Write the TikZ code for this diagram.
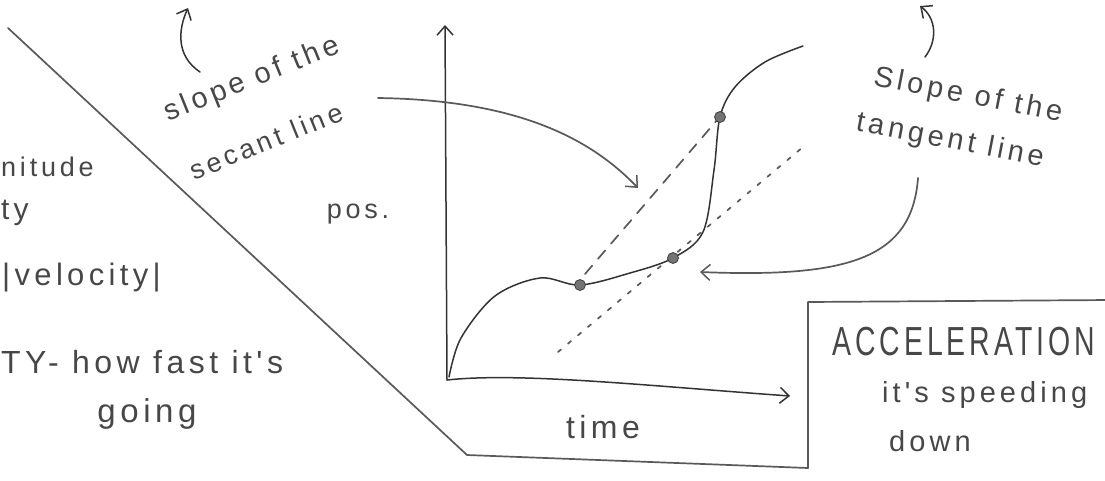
\documentclass[tikz,border=0pt]{standalone}
\usepackage{fontspec}
\newfontfamily\hand[LetterSpace=14]{Liberation Sans}
\usetikzlibrary{arrows.meta}
\begin{document}
\begin{tikzpicture}[x=1pt,y=-1pt,
  pen/.style={draw=black!65,line width=1.7pt,line cap=round,line join=round},
  ink/.style={draw=black!80,line width=1.5pt,line cap=round,line join=round},
  barb/.style={-{Straight Barb[length=9pt,width=16pt,line width=1.5pt]}},
  txt/.style={text=black!72,inner sep=0pt,font=\hand\fontsize{#1}{#1}\selectfont},
  txt/.default=28,
  dot/.style={circle,fill=black!55,draw=black!75,line width=0.8pt,inner sep=0pt,minimum size=11pt}]
\useasboundingbox (0,0) rectangle (1105,480);
% frame line
\draw[pen] (8,28) -- (467,455) -- (808,468) -- (808,302) -- (1110,300);
% axes
\coordinate (O) at (447,380);
\coordinate (Ytop) at (445,25);
\coordinate (Xend) at (790,396);
\draw[ink,barb] (O) -- (Ytop);
\draw[ink,barb] (O) .. controls (520,372) and (650,386) .. (Xend);
% curve
\draw[ink] plot[smooth,tension=0.55] coordinates {(449,377) (461,338) (495,296) (540,278) (580,285) (630,273) (673,258) (703,232) (714,170) (720,117) (735,87) (765,62) (803,46)};
% secant & tangent lines
\draw[pen,dash pattern=on 11pt off 9pt] (585,274) -- (718,119);
\draw[pen,dash pattern=on 4pt off 9pt] (558,352) -- (803,147);
\node[dot] (p1) at (580,285) {};
\node[dot] (p2) at (673,258) {};
\node[dot] (p3) at (720,117) {};
% texts
\node[txt=29,rotate=22] (slopeA) at (252,80) {slope of the};
\node[txt=27,rotate=22] (secant) at (266,141) {secant line};
\node[txt=27] (pos) at (358,214) {pos.};
\node[txt=27,anchor=west] (nitude) at (1,167) {nitude};
\node[txt=30,anchor=west] (ty) at (1,213) {ty};
\node[txt=31,anchor=west] (vel) at (2,278) {|velocity|};
\node[txt=32,anchor=west] (how) at (1,362) {TY- how fast it's};
\node[txt=33] (going) at (147,414) {going};
\node[txt=32] (time) at (603,427) {time};
\node[txt=29,rotate=-11] (slopeB) at (968,96) {Slope of the};
\node[txt=29,rotate=-11] (tangent) at (950,141) {tangent line};
\node[txt=29,anchor=west] (acc) at (832,342) {\scalebox{0.98}[1.4]{ACCELERATION}};
\node[txt=29,anchor=west] (speed) at (882,395) {it's speeding};
\node[txt=29,anchor=west] (down) at (889,441) {down};
% arrows
\coordinate (secTip) at (638,188);
\coordinate (secStart) at (378,98);
\draw[pen,barb] (secStart) .. controls (520,100) and (592,140) .. (secTip);
\coordinate (tanStart) at (918,178);
\coordinate (tanTip) at (700,272);
\draw[pen,barb] (tanStart) .. controls (912,258) and (850,278) .. (tanTip);
\coordinate (upA) at (200,72);
\coordinate (upAtip) at (188,8);
\draw[ink,barb] (upA) .. controls (176,56) and (178,30) .. (upAtip);
\coordinate (upB) at (925,57);
\coordinate (upBtip) at (920,6);
\draw[ink,barb] (upB) .. controls (938,40) and (936,18) .. (upBtip);
\end{tikzpicture}
\end{document}
